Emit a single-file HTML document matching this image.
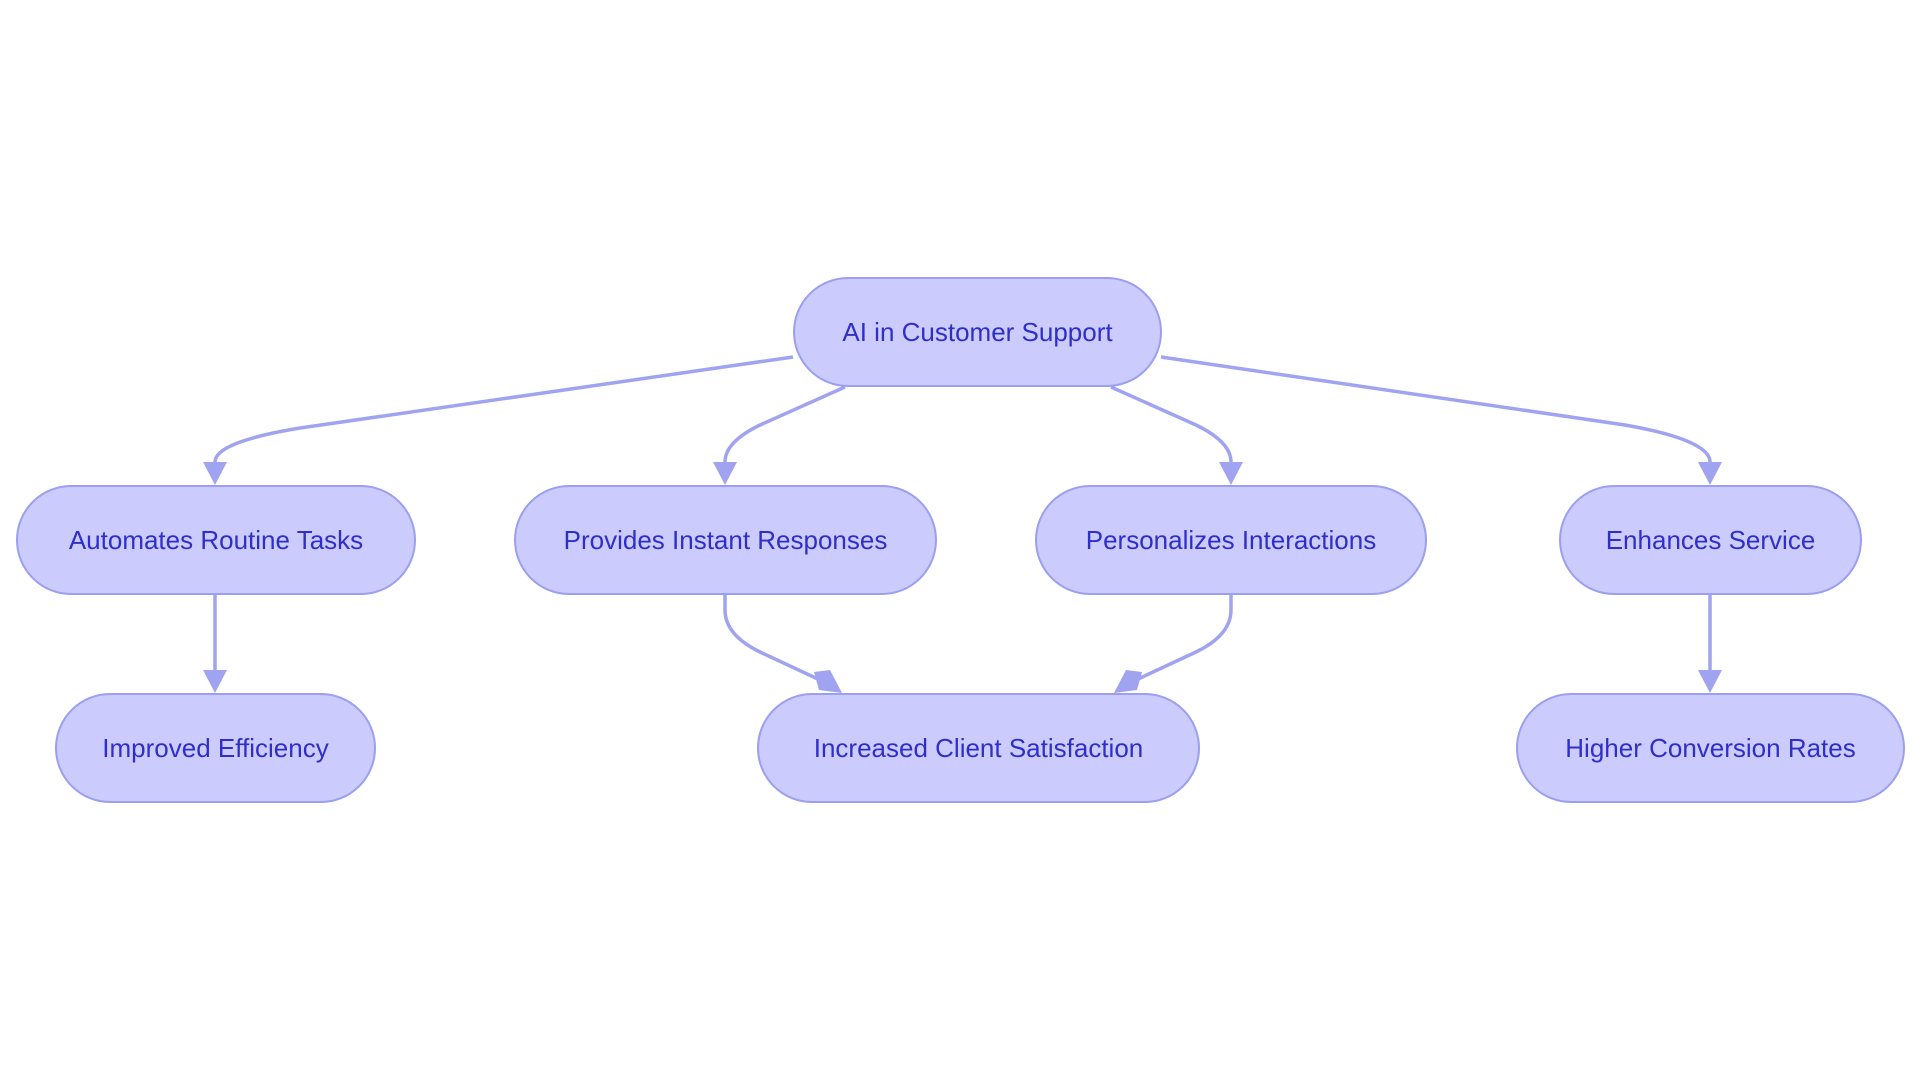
<!DOCTYPE html>
<html><head><style>
body{margin:0;background:#fff;width:1920px;height:1083px;overflow:hidden;position:relative;font-family:"Liberation Sans",sans-serif}
.n{position:absolute;box-sizing:border-box;background:#cbcbfd;border:2px solid #9a9ff0;border-radius:56px;display:flex;align-items:center;justify-content:center;color:#2f2fc8;font-size:26px;height:110px}
svg{position:absolute;left:0;top:0}
</style></head><body>
<svg width="1920" height="1083">
<defs><marker id="a" markerWidth="10" markerHeight="10" refX="5" refY="9" orient="auto" markerUnits="userSpaceOnUse"><path d="M0,0 L22,0" /></marker></defs>
<g fill="none" stroke="#a0a3f0" stroke-width="3.5">
<path d="M793,357 L300,428 Q215,442 215,462"/>
<path d="M845,387 L760,425 Q725,442 725,462"/>
<path d="M1111,387 L1196,425 Q1231,442 1231,462"/>
<path d="M1161,357 L1625,425 Q1710,440 1710,462"/>
<path d="M215,595 L215,670"/>
<path d="M1710,595 L1710,670"/>
<path d="M725,595 L725,610 Q725,635 760,652 L820,680"/>
<path d="M1231,595 L1231,610 Q1231,635 1196,652 L1136,680"/>
</g>
<g fill="#a0a3f0">
<path d="M203,462 L227,462 L215,485Z"/>
<path d="M713,462 L737,462 L725,485Z"/>
<path d="M1219,462 L1243,462 L1231,485Z"/>
<path d="M1698,462 L1722,462 L1710,485Z"/>
<path d="M203,670 L227,670 L215,693Z"/>
<path d="M1698,670 L1722,670 L1710,693Z"/>
<path d="M814,672 L830,670 L842,693 L819,690Z"/>
<path d="M1142,672 L1126,670 L1114,693 L1137,690Z"/>
</g>
</svg>
<div class="n" style="left:793px;top:277px;width:369px">AI in Customer Support</div>
<div class="n" style="left:16px;top:485px;width:400px">Automates Routine Tasks</div>
<div class="n" style="left:514px;top:485px;width:423px">Provides Instant Responses</div>
<div class="n" style="left:1035px;top:485px;width:392px">Personalizes Interactions</div>
<div class="n" style="left:1559px;top:485px;width:303px">Enhances Service</div>
<div class="n" style="left:55px;top:693px;width:321px">Improved Efficiency</div>
<div class="n" style="left:757px;top:693px;width:443px">Increased Client Satisfaction</div>
<div class="n" style="left:1516px;top:693px;width:389px">Higher Conversion Rates</div>
</body></html>
